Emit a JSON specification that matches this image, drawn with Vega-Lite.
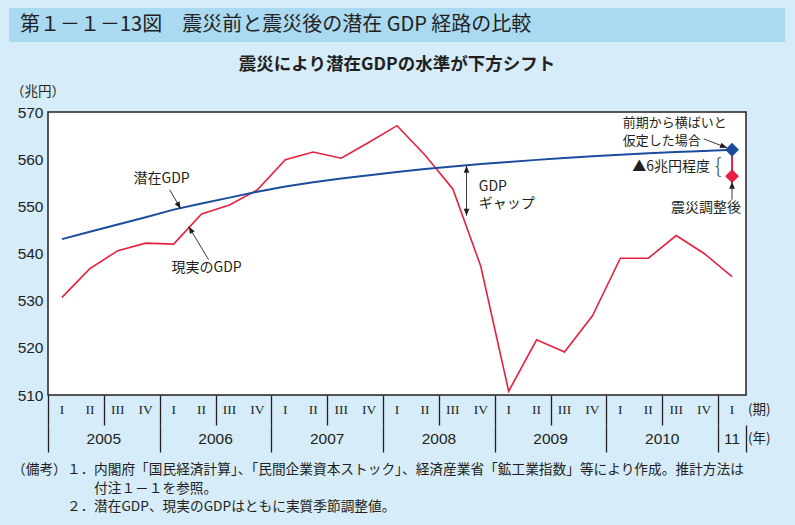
{
  "$schema": "https://vega.github.io/schema/vega-lite/v6.json",
  "background": "#d6ecf9",
  "padding": {"left": 9, "top": 8, "right": 10, "bottom": 0},
  "spacing": 0,
  "center": true,
  "bounds": "flush",
  "config": {"view": {"stroke": null}, "font": "Noto Sans CJK JP"},
  "datasets": {
    "gdp": [
      {"year": 2005, "yl": "2005", "q": "I", "t": 2005.125, "actual": 530.7, "potential": 543.05},
      {"year": 2005, "yl": "2005", "q": "II", "t": 2005.375, "actual": 536.8, "potential": 544.6},
      {"year": 2005, "yl": "2005", "q": "III", "t": 2005.625, "actual": 540.6, "potential": 546.15},
      {"year": 2005, "yl": "2005", "q": "IV", "t": 2005.875, "actual": 542.2, "potential": 547.7},
      {"year": 2006, "yl": "2006", "q": "I", "t": 2006.125, "actual": 542.0, "potential": 549.3},
      {"year": 2006, "yl": "2006", "q": "II", "t": 2006.375, "actual": 548.4, "potential": 550.6},
      {"year": 2006, "yl": "2006", "q": "III", "t": 2006.625, "actual": 550.3, "potential": 551.85},
      {"year": 2006, "yl": "2006", "q": "IV", "t": 2006.875, "actual": 553.5, "potential": 553.1},
      {"year": 2007, "yl": "2007", "q": "I", "t": 2007.125, "actual": 559.9, "potential": 554.2},
      {"year": 2007, "yl": "2007", "q": "II", "t": 2007.375, "actual": 561.5, "potential": 555.1},
      {"year": 2007, "yl": "2007", "q": "III", "t": 2007.625, "actual": 560.2, "potential": 555.9},
      {"year": 2007, "yl": "2007", "q": "IV", "t": 2007.875, "actual": 563.6, "potential": 556.6},
      {"year": 2008, "yl": "2008", "q": "I", "t": 2008.125, "actual": 567.1, "potential": 557.3},
      {"year": 2008, "yl": "2008", "q": "II", "t": 2008.375, "actual": 560.9, "potential": 557.9},
      {"year": 2008, "yl": "2008", "q": "III", "t": 2008.625, "actual": 553.7, "potential": 558.45},
      {"year": 2008, "yl": "2008", "q": "IV", "t": 2008.875, "actual": 537.3, "potential": 558.95},
      {"year": 2009, "yl": "2009", "q": "I", "t": 2009.125, "actual": 510.8, "potential": 559.4},
      {"year": 2009, "yl": "2009", "q": "II", "t": 2009.375, "actual": 521.7, "potential": 559.85},
      {"year": 2009, "yl": "2009", "q": "III", "t": 2009.625, "actual": 519.1, "potential": 560.25},
      {"year": 2009, "yl": "2009", "q": "IV", "t": 2009.875, "actual": 526.8, "potential": 560.6},
      {"year": 2010, "yl": "2010", "q": "I", "t": 2010.125, "actual": 539.0, "potential": 560.95},
      {"year": 2010, "yl": "2010", "q": "II", "t": 2010.375, "actual": 539.0, "potential": 561.25},
      {"year": 2010, "yl": "2010", "q": "III", "t": 2010.625, "actual": 543.8, "potential": 561.5},
      {"year": 2010, "yl": "2010", "q": "IV", "t": 2010.875, "actual": 540.0, "potential": 561.75},
      {"year": 2011, "yl": "11", "q": "I", "t": 2011.125, "actual": 535.1, "potential": 562.0}
    ],
    "endpoints": [
      {"t": 2011.125, "v": 562.0, "case": "前期から横ばいと仮定した場合"},
      {"t": 2011.125, "v": 556.4, "case": "震災調整後"}
    ],
    "arrows": [
      {"t1": 2006.09, "v1": 553.5, "t2": 2006.1875, "v2": 549.5},
      {"t1": 2006.4375, "v1": 538.7, "t2": 2006.26, "v2": 545.7},
      {"t1": 2010.8725, "v1": 564.3, "t2": 2011.08, "v2": 562.4},
      {"t1": 2011.125, "v1": 551.4, "t2": 2011.125, "v2": 555.2},
      {"t1": 2008.7475, "v1": 558.6, "t2": 2008.7475, "v2": 548.0}
    ],
    "one": [{}]
  },
  "vconcat": [
    {
      "width": 776,
      "height": 34,
      "view": {"fill": "#aad9f2", "stroke": null},
      "data": {"values": [{"label": "第１－１－13図　震災前と震災後の潜在 GDP 経路の比較"}]},
      "mark": {"type": "text", "align": "left", "baseline": "middle", "dx": 11, "fontSize": 20, "color": "#231f20", "font": "Noto Sans CJK JP"},
      "encoding": {
        "x": {"datum": 0, "type": "quantitative", "scale": {"domain": [0, 1]}, "axis": null},
        "text": {"field": "label"}
      }
    },
    {
      "width": 776,
      "height": 70,
      "view": {"stroke": null},
      "layer": [
        {
          "data": {"values": [{"label": "震災により潜在GDPの水準が下方シフト"}]},
          "mark": {"type": "text", "align": "center", "baseline": "middle", "dy": -12.5, "fontSize": 17.5, "fontWeight": "bold", "color": "#231f20", "font": "Noto Sans CJK JP"},
          "encoding": {"text": {"field": "label"}}
        },
        {
          "data": {"values": [{"label": "（兆円）"}]},
          "mark": {"type": "text", "align": "left", "baseline": "middle", "dx": 2, "dy": 15, "fontSize": 13.5, "color": "#231f20", "font": "Noto Sans CJK JP"},
          "encoding": {
            "x": {"datum": 0, "type": "quantitative", "scale": {"domain": [0, 1]}, "axis": null},
            "text": {"field": "label"}
          }
        }
      ]
    },
    {
      "width": 698,
      "height": 283,
      "view": {"fill": "white", "stroke": "#231f20", "strokeWidth": 1.5},
      "encoding": {
        "x": {"type": "quantitative", "scale": {"domain": [2005, 2011.25], "nice": false, "zero": false}},
        "y": {"type": "quantitative", "scale": {"domain": [510, 570], "nice": false, "zero": false}}
      },
      "layer": [
        {
          "data": {"name": "gdp"},
          "mark": {"type": "line", "color": "#e8203f", "strokeWidth": 1.6},
          "encoding": {
            "x": {"field": "t", "type": "quantitative",
              "axis": {"orient": "bottom", "values": [2005, 2005.25, 2005.5, 2005.75, 2006, 2006.25, 2006.5, 2006.75, 2007, 2007.25, 2007.5, 2007.75, 2008, 2008.25, 2008.5, 2008.75, 2009, 2009.25, 2009.5, 2009.75, 2010, 2010.25, 2010.5, 2010.75, 2011, 2011.25],
                "tickSize": 30, "tickWidth": 1.3, "tickColor": "#231f20", "labels": false, "domain": false, "grid": false, "title": null}},
            "y": {"field": "actual", "type": "quantitative",
              "axis": {"orient": "left", "values": [510, 520, 530, 540, 550, 560, 570], "ticks": false, "domain": false, "grid": false,
                "labelFont": "Liberation Sans", "labelFontSize": 15.5, "labelColor": "#231f20", "labelPadding": 5, "labelFlush": false, "title": null}}
          }
        },
        {
          "data": {"name": "gdp"},
          "mark": {"type": "line", "color": "#1a4d9e", "strokeWidth": 2},
          "encoding": {
            "x": {"field": "t", "type": "quantitative"},
            "y": {"field": "potential", "type": "quantitative"}
          }
        },
        {
          "data": {"name": "one"},
          "mark": {"type": "rule", "color": "#e8203f", "strokeWidth": 2},
          "encoding": {
            "x": {"datum": 2011.125, "type": "quantitative"},
            "y": {"datum": 562.0, "type": "quantitative"},
            "y2": {"datum": 556.4}
          }
        },
        {
          "data": {"name": "endpoints"},
          "mark": {"type": "point", "shape": "diamond", "filled": true, "size": 190, "opacity": 1},
          "encoding": {
            "x": {"field": "t", "type": "quantitative"},
            "y": {"field": "v", "type": "quantitative"},
            "color": {"field": "case", "type": "nominal", "scale": {"domain": ["前期から横ばいと仮定した場合", "震災調整後"], "range": ["#1a4a9a", "#e81c45"]}, "legend": null}
          }
        },
        {
          "data": {"name": "arrows"},
          "mark": {"type": "rule", "color": "#231f20", "strokeWidth": 0.9},
          "encoding": {
            "x": {"field": "t1", "type": "quantitative"},
            "x2": {"field": "t2"},
            "y": {"field": "v1", "type": "quantitative"},
            "y2": {"field": "v2"}
          }
        },
        {
          "data": {"name": "one"},
          "mark": {"type": "point", "shape": "M0,0L-0.4,1L0.4,1Z", "filled": true, "size": 196, "color": "#231f20", "opacity": 1, "angle": 150},
          "encoding": {"x": {"datum": 2006.1875, "type": "quantitative"}, "y": {"datum": 549.5, "type": "quantitative"}}
        },
        {
          "data": {"name": "one"},
          "mark": {"type": "point", "shape": "M0,0L-0.4,1L0.4,1Z", "filled": true, "size": 196, "color": "#231f20", "opacity": 1, "angle": 329},
          "encoding": {"x": {"datum": 2006.26, "type": "quantitative"}, "y": {"datum": 545.7, "type": "quantitative"}}
        },
        {
          "data": {"name": "one"},
          "mark": {"type": "point", "shape": "M0,0L-0.4,1L0.4,1Z", "filled": true, "size": 196, "color": "#231f20", "opacity": 1, "angle": 111},
          "encoding": {"x": {"datum": 2011.08, "type": "quantitative"}, "y": {"datum": 562.4, "type": "quantitative"}}
        },
        {
          "data": {"name": "one"},
          "mark": {"type": "point", "shape": "M0,0L-0.4,1L0.4,1Z", "filled": true, "size": 196, "color": "#231f20", "opacity": 1, "angle": 0},
          "encoding": {"x": {"datum": 2011.125, "type": "quantitative"}, "y": {"datum": 555.2, "type": "quantitative"}}
        },
        {
          "data": {"name": "one"},
          "mark": {"type": "point", "shape": "M0,0L-0.4,1L0.4,1Z", "filled": true, "size": 196, "color": "#231f20", "opacity": 1, "angle": 0},
          "encoding": {"x": {"datum": 2008.7475, "type": "quantitative"}, "y": {"datum": 558.6, "type": "quantitative"}}
        },
        {
          "data": {"name": "one"},
          "mark": {"type": "point", "shape": "M0,0L-0.4,1L0.4,1Z", "filled": true, "size": 196, "color": "#231f20", "opacity": 1, "angle": 180},
          "encoding": {"x": {"datum": 2008.7475, "type": "quantitative"}, "y": {"datum": 548.0, "type": "quantitative"}}
        },
        {
          "data": {"values": [
            {"t": 2006.0175, "v": 555.9, "label": "潜在GDP"},
            {"t": 2006.42, "v": 537.0, "label": "現実のGDP"},
            {"t": 2010.8925, "v": 549.7, "label": "震災調整後"}
          ]},
          "mark": {"type": "text", "align": "center", "baseline": "middle", "fontSize": 14, "color": "#231f20", "font": "Noto Sans CJK JP"},
          "encoding": {
            "x": {"field": "t", "type": "quantitative"},
            "y": {"field": "v", "type": "quantitative"},
            "text": {"field": "label"}
          }
        },
        {
          "data": {"values": [
            {"t": 2008.8575, "v": 554.2, "label": "GDP"},
            {"t": 2008.8575, "v": 550.6, "label": "ギャップ"}
          ]},
          "mark": {"type": "text", "align": "left", "baseline": "middle", "fontSize": 14, "color": "#231f20", "font": "Noto Sans CJK JP"},
          "encoding": {
            "x": {"field": "t", "type": "quantitative"},
            "y": {"field": "v", "type": "quantitative"},
            "text": {"field": "label"}
          }
        },
        {
          "data": {"values": [
            {"t": 2010.1475, "v": 567.7, "label": "前期から横ばいと"},
            {"t": 2010.1475, "v": 563.9, "label": "仮定した場合"}
          ]},
          "mark": {"type": "text", "align": "left", "baseline": "middle", "fontSize": 13, "color": "#231f20", "font": "Noto Sans CJK JP"},
          "encoding": {
            "x": {"field": "t", "type": "quantitative"},
            "y": {"field": "v", "type": "quantitative"},
            "text": {"field": "label"}
          }
        },
        {
          "data": {"values": [{"t": 2010.9275, "v": 558.4, "label": "▲6兆円程度"}]},
          "mark": {"type": "text", "align": "right", "baseline": "middle", "fontSize": 14, "color": "#231f20", "font": "Noto Sans CJK JP"},
          "encoding": {
            "x": {"field": "t", "type": "quantitative"},
            "y": {"field": "v", "type": "quantitative"},
            "text": {"field": "label"}
          }
        },
        {
          "data": {"values": [{"t": 2011.0, "v": 558.4, "label": "{"}]},
          "mark": {"type": "text", "align": "center", "baseline": "middle", "fontSize": 20, "fontWeight": 300, "color": "#231f20", "font": "Noto Sans CJK JP"},
          "encoding": {
            "x": {"field": "t", "type": "quantitative"},
            "y": {"field": "v", "type": "quantitative"},
            "text": {"field": "label"}
          }
        }
      ]
    },
    {
      "width": 698,
      "height": 57,
      "view": {"stroke": null},
      "encoding": {
        "x": {"type": "quantitative", "scale": {"domain": [2005, 2011.25], "nice": false, "zero": false}}
      },
      "layer": [
        {
          "data": {"name": "gdp"},
          "mark": {"type": "text", "align": "center", "baseline": "middle", "dy": -13.5, "fontSize": 13.5, "color": "#231f20", "font": "Liberation Serif"},
          "encoding": {
            "x": {"field": "t", "type": "quantitative",
              "axis": {"orient": "bottom", "offset": -27, "values": [2005, 2006, 2007, 2008, 2009, 2010, 2011, 2011.25],
                "tickSize": 27, "tickWidth": 1.3, "tickColor": "#231f20", "labels": false, "domain": false, "grid": false, "title": null}},
            "text": {"field": "q"}
          }
        },
        {
          "data": {"name": "gdp"},
          "transform": [{"aggregate": [{"op": "mean", "field": "t", "as": "tm"}], "groupby": ["yl"]}],
          "mark": {"type": "text", "align": "center", "baseline": "middle", "dy": 15, "fontSize": 15.5, "color": "#231f20", "font": "Liberation Sans"},
          "encoding": {
            "x": {"field": "tm", "type": "quantitative"},
            "text": {"field": "yl"}
          }
        },
        {
          "data": {"values": [{"label": "(期)", "row": "q"}]},
          "mark": {"type": "text", "align": "left", "baseline": "middle", "dx": 2, "dy": -13.5, "fontSize": 13.5, "color": "#231f20", "font": "Noto Sans CJK JP"},
          "encoding": {
            "x": {"datum": 2011.25, "type": "quantitative"},
            "text": {"field": "label"}
          }
        },
        {
          "data": {"values": [{"label": "(年)", "row": "y"}]},
          "mark": {"type": "text", "align": "left", "baseline": "middle", "dx": 2, "dy": 15, "fontSize": 13.5, "color": "#231f20", "font": "Noto Sans CJK JP"},
          "encoding": {
            "x": {"datum": 2011.25, "type": "quantitative"},
            "text": {"field": "label"}
          }
        }
      ]
    },
    {
      "width": 776,
      "height": 73,
      "view": {"stroke": null},
      "encoding": {
        "x": {"datum": 0, "type": "quantitative", "scale": {"domain": [0, 1]}, "axis": null},
        "y": {"field": "line", "type": "ordinal", "scale": {"type": "point", "padding": 0.973, "domain": [1, 2, 3]}, "axis": null},
        "text": {"field": "text"}
      },
      "layer": [
        {
          "data": {"values": [{"line": 1, "text": "（備考）"}]},
          "mark": {"type": "text", "align": "left", "baseline": "middle", "dx": 3, "fontSize": 13.7, "color": "#231f20", "font": "Noto Sans CJK JP"}
        },
        {
          "data": {"values": [{"line": 1, "text": "１．"}, {"line": 3, "text": "２．"}]},
          "mark": {"type": "text", "align": "left", "baseline": "middle", "dx": 58, "fontSize": 13.7, "color": "#231f20", "font": "Noto Sans CJK JP"}
        },
        {
          "data": {"values": [
            {"line": 1, "text": "内閣府「国民経済計算」、「民間企業資本ストック」、経済産業省「鉱工業指数」等により作成。推計方法は"},
            {"line": 2, "text": "付注１－１を参照。"},
            {"line": 3, "text": "潜在GDP、現実のGDPはともに実質季節調整値。"}
          ]},
          "mark": {"type": "text", "align": "left", "baseline": "middle", "dx": 85, "fontSize": 13.7, "color": "#231f20", "font": "Noto Sans CJK JP"}
        }
      ]
    }
  ]
}
